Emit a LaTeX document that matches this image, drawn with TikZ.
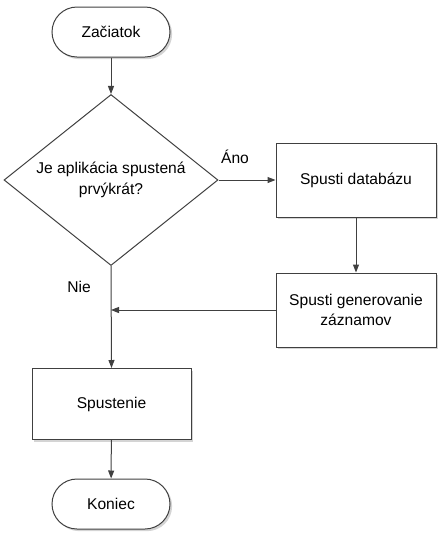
\documentclass[tikz,border=0pt]{standalone}
\usepackage{fontspec}
\setmainfont{Liberation Sans}
\usepackage{tikz}
\usetikzlibrary{arrows.meta,shapes.geometric,shadows}
\usepackage{xcolor}
\definecolor{LineGrey}{HTML}{404040}
\definecolor{ShadowGrey}{HTML}{D4D4D4}

\tikzset{
  flow/.style={draw=LineGrey,line width=0.75pt,fill=white,align=center,inner sep=0pt,
    font=\fontsize{11.7}{15.5}\selectfont,
    drop shadow={shadow xshift=1.6pt,shadow yshift=-1.6pt,fill=ShadowGrey,opacity=1}},
  terminal/.style={flow,minimum width=88.5pt,minimum height=37.5pt,rounded corners=18.75pt},
  stepbox/.style={flow,minimum width=120pt,minimum height=55.5pt},
  decision/.style={draw=LineGrey,line width=0.75pt,diamond,aspect=1.25,align=center,inner sep=0pt,
    minimum width=160.5pt,minimum height=128.25pt,font=\fontsize{11.7}{15.5}\selectfont},
  link/.style={draw=LineGrey,line width=0.75pt,-{Triangle[length=6pt,width=4.5pt]}},
  tag/.style={font=\fontsize{11.7}{14}\selectfont}
}

\begin{document}
\begin{tikzpicture}[x=0.75pt,y=-0.75pt]
    \useasboundingbox (0,0) rectangle (445,544);

    \node[terminal] (start) at (111,32) {Začiatok};
    \node[decision] (first) at (111,180) {Je aplikácia spustená\\prvýkrát?};
    \node[stepbox] (db) at (356,180) {Spusti databázu};
    \node[stepbox] (gen) at (356,310) {Spusti generovanie\\záznamov};
    \node[stepbox,minimum width=119.25pt,minimum height=53.25pt] (run) at (111.5,404) {Spustenie};
    \node[terminal] (stop) at (111,504) {Koniec};
    \coordinate (join) at (111,310);

    \draw[link] (start) -- (first);
    \draw[link] (first.east) -- (db.west);
    \draw[link] (db) -- (gen);
    \draw[link] (gen.west) -- (join);
    \draw[link] (first.south) -- (run.north);
    \draw[link] (run) -- (stop);

    \node[tag] (yes) at (235,157) {Áno};
    \node[tag] (no) at (79,287) {Nie};
\end{tikzpicture}
\end{document}
